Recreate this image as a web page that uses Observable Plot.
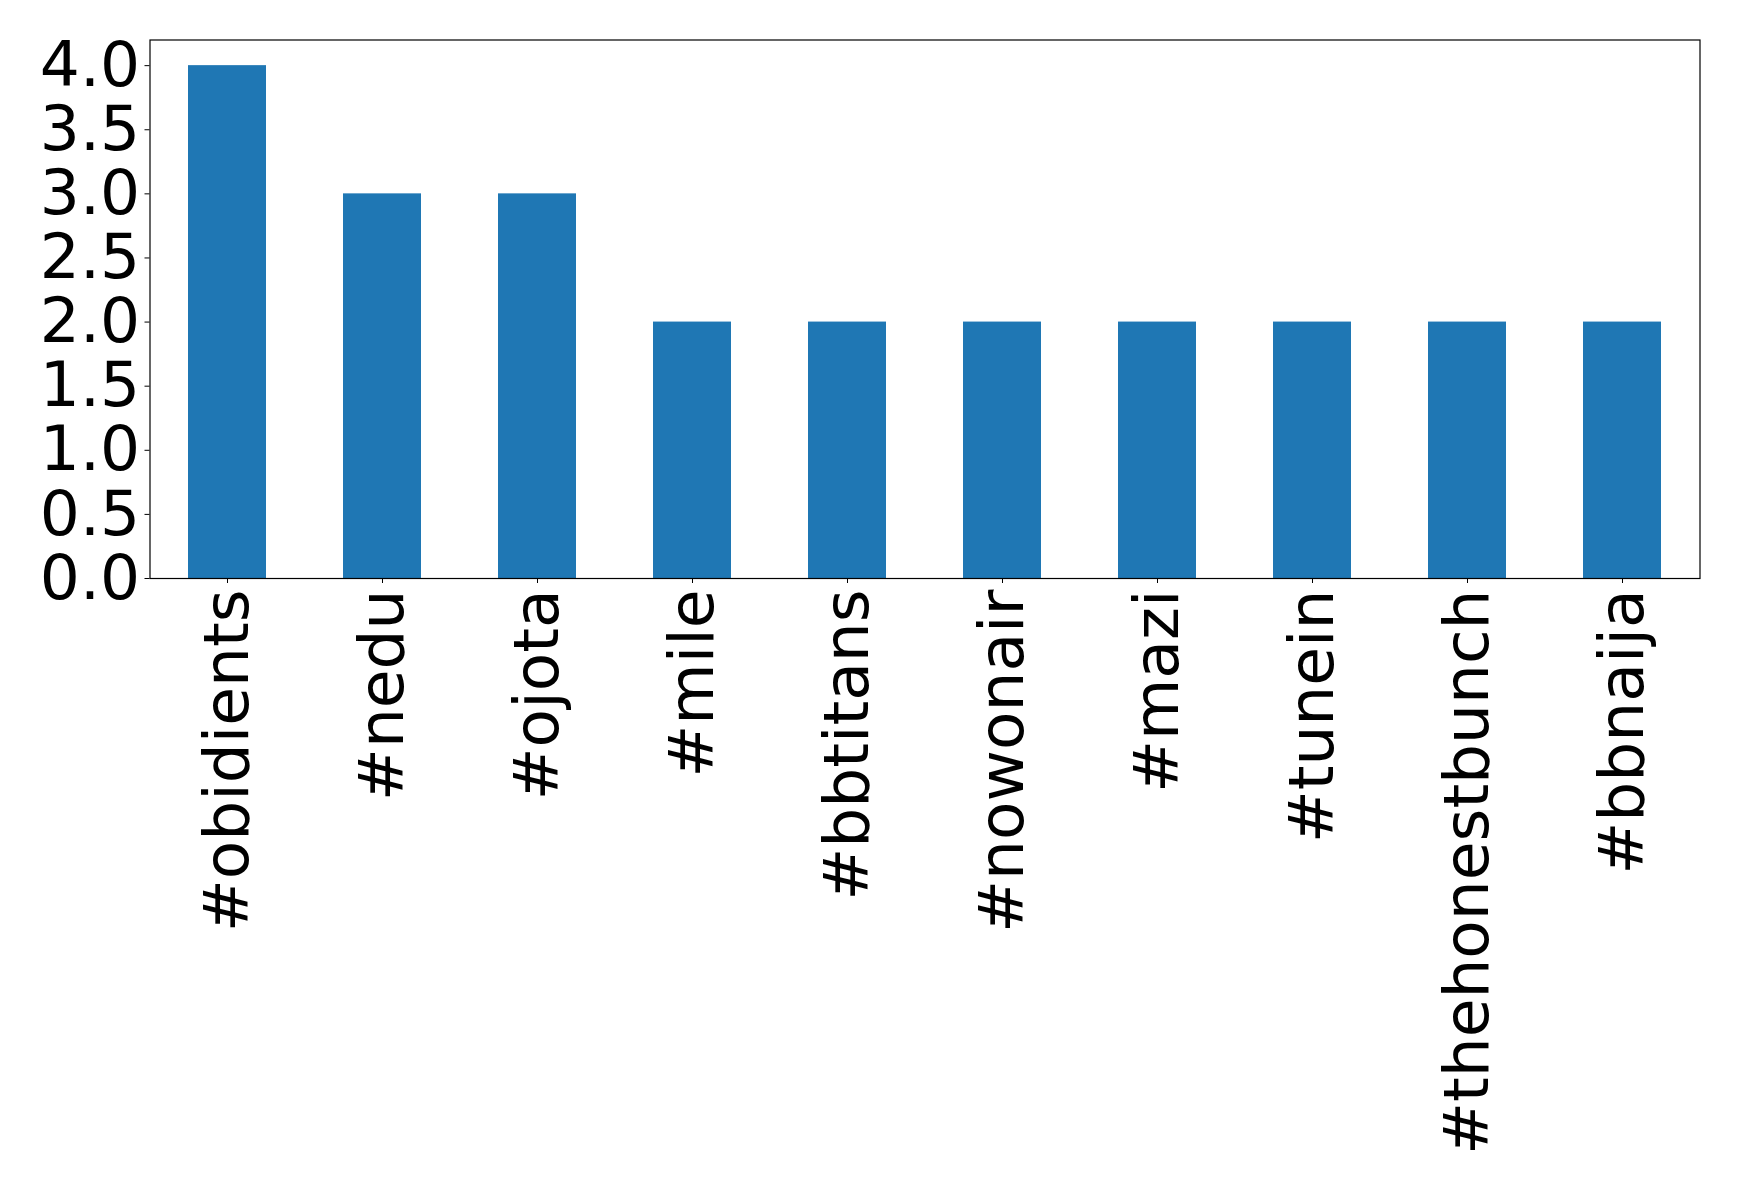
<!DOCTYPE html>
<html>
<head>
<meta charset="utf-8">
<script src="https://cdn.jsdelivr.net/npm/d3@7"></script>
<script src="https://cdn.jsdelivr.net/npm/@observablehq/plot@0.6"></script>
<style>
  html, body { margin: 0; padding: 0; background: #fff; }
  #chart svg { display: block; }
</style>
</head>
<body>
<div id="chart"></div>
<script>
const hashtags = ["#obidients", "#nedu", "#ojota", "#mile", "#bbtitans", "#nowonair", "#mazi", "#tunein", "#thehonestbunch", "#bbnaija"];
const counts = [4, 3, 3, 2, 2, 2, 2, 2, 2, 2];
const yTicks = [0, 0.5, 1.0, 1.5, 2.0, 2.5, 3.0, 3.5, 4.0];

const data = hashtags.map((h, i) => ({tag: h, count: counts[i]}));

const chart = Plot.plot({
  width: 1739,
  height: 1188,
  marginLeft: 149.5,
  marginRight: 39.5,
  marginTop: 39.5,
  marginBottom: 610,
  style: {fontFamily: "DejaVu Sans", background: "#fff", color: "#000"},
  x: {domain: hashtags, paddingInner: 0.5, paddingOuter: 0.25, label: null},
  y: {domain: [0, 4.2], label: null},
  marks: [
    Plot.barY(data, {x: "tag", y: "count", fill: "#1f77b4"}),
    Plot.frame({stroke: "#000", strokeWidth: 1.2}),
    Plot.axisY({ticks: yTicks, tickFormat: d3.format(".1f"), tickSize: 5, tickPadding: 5, fontSize: 63, label: null, stroke: "#000"}),
    Plot.axisX({tickRotate: -90, tickSize: 5, tickPadding: 6, fontSize: 63, label: null, stroke: "#000"})
  ]
});
document.getElementById("chart").appendChild(chart);
</script>
</body>
</html>
